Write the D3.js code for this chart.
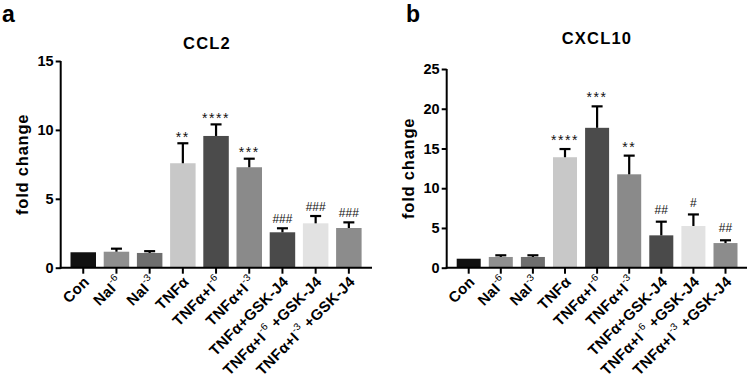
<!DOCTYPE html>
<html>
<head>
<meta charset="utf-8">
<script src="https://cdn.jsdelivr.net/npm/d3@7"></script>
<style>
  html, body { margin: 0; padding: 0; background: #fff; }
  svg { display: block; font-family: "Liberation Sans", Arial, sans-serif; }
</style>
</head>
<body>
<svg id="chart" width="750" height="381"></svg>
<script>
// ---- data ----
const categories = ["Con", "NaI-6", "NaI-3", "TNFα", "TNFα+I-6", "TNFα+I-3",
  "TNFα+GSK-J4", "TNFα+I-6 +GSK-J4", "TNFα+I-3 +GSK-J4"];
const labelMain = ["Con", "NaI", "NaI", "TNFα", "TNFα+I", "TNFα+I", "TNFα+GSK-J4", "TNFα+I", "TNFα+I"];
const labelSup  = ["", "-6", "-3", "", "-6", "-3", "", "-6", "-3"];
const labelTail = ["", "", "", "", "", "", "", " +GSK-J4", " +GSK-J4"];

const ccl2Mean = [1.12, 1.16, 1.07, 7.58, 9.56, 7.29, 2.57, 3.22, 2.88];
const ccl2Err  = [0, 0.22, 0.13, 1.45, 0.84, 0.62, 0.29, 0.53, 0.41];
const ccl2Sig  = ["", "", "", "**", "****", "***", "###", "###", "###"];
const ccl2Ticks = [0, 5, 10, 15];

const cxcl10Mean = [1.13, 1.35, 1.35, 13.9, 17.6, 11.75, 4.07, 5.25, 3.1];
const cxcl10Err  = [0, 0.21, 0.21, 1.03, 2.7, 2.35, 1.72, 1.45, 0.35];
const cxcl10Sig  = ["", "", "", "****", "***", "**", "##", "#", "##"];
const cxcl10Ticks = [0, 5, 10, 15, 20, 25];

const barColors = ["#111111", "#8f8f8f", "#6e6e6e", "#c8c8c8", "#4b4b4b", "#8a8a8a", "#4a4a4a", "#e2e2e2", "#8c8c8c"];

const svg = d3.select("#chart");

function panel(cfg) {
  const g = svg.append("g");
  const y = d3.scaleLinear().domain([0, cfg.ymax]).range([cfg.y0, cfg.y1]);
  const pi = cfg.padInner;
  const x = d3.scaleBand().domain(categories).range([cfg.xr0, cfg.xr1])
    .paddingInner(pi).paddingOuter(pi / 2);

  // panel letter
  g.append("text").attr("x", cfg.letterX).attr("y", 22)
    .attr("font-size", 23).attr("font-weight", "bold").text(cfg.letter);
  // title
  g.append("text").attr("x", cfg.titleX).attr("y", cfg.titleY)
    .attr("text-anchor", "middle").attr("font-size", 16.5).attr("font-weight", "bold")
    .attr("letter-spacing", 1.2).text(cfg.title);
  // y title
  g.append("text")
    .attr("transform", `translate(${cfg.yTitleX},${(cfg.y0 + cfg.y1) / 2}) rotate(-90)`)
    .attr("text-anchor", "middle").attr("font-size", 16.5).attr("font-weight", "bold")
    .attr("letter-spacing", 0.8).text("fold change");

  // bars
  g.selectAll("rect.bar").data(cfg.mean).join("rect").attr("class", "bar")
    .attr("x", (d, i) => x(categories[i]))
    .attr("width", x.bandwidth())
    .attr("y", d => y(d))
    .attr("height", d => y(0) - y(d))
    .attr("fill", (d, i) => barColors[i]);

  // error bars (upper only)
  const capW = 11;
  cfg.mean.forEach((m, i) => {
    const e = cfg.err[i];
    if (e <= 0) return;
    const cx = x(categories[i]) + x.bandwidth() / 2;
    g.append("line").attr("x1", cx).attr("x2", cx).attr("y1", y(m)).attr("y2", y(m + e))
      .attr("stroke", "#000").attr("stroke-width", 2.2);
    g.append("line").attr("x1", cx - capW / 2).attr("x2", cx + capW / 2)
      .attr("y1", y(m + e)).attr("y2", y(m + e))
      .attr("stroke", "#000").attr("stroke-width", 2.2);
  });

  // significance marks
  cfg.sig.forEach((s, i) => {
    if (!s) return;
    const cx = x(categories[i]) + x.bandwidth() / 2;
    const top = y(cfg.mean[i] + cfg.err[i]);
    const isStar = s[0] === "*";
    g.append("text").attr("x", cx).attr("text-anchor", "middle")
      .attr("y", isStar ? top - cfg.sigOff + 8 : top - cfg.sigOff + 4.2)
      .attr("font-size", isStar ? 14 : 12)
      .attr("letter-spacing", isStar ? 1.6 : 0)
      .attr("fill", "#111")
      .text(s);
  });

  // y axis
  const ya = g.append("g").attr("transform", `translate(${cfg.axisX},0)`)
    .call(d3.axisLeft(y).tickValues(cfg.ticks).tickSize(5).tickPadding(2));
  ya.select(".domain").attr("stroke-width", 2).attr("d", `M-0,${cfg.y1}V${cfg.y0 + 1}`);
  ya.selectAll(".tick line").attr("stroke-width", 2);
  ya.selectAll(".tick text").attr("font-size", 14.5).attr("font-weight", "bold")
    .attr("font-family", "Liberation Sans, Arial, sans-serif").attr("fill", "#000");

  // x axis
  const xa = g.append("g").attr("transform", `translate(0,${cfg.y0})`)
    .call(d3.axisBottom(x).tickSize(6).tickSizeOuter(0));
  xa.select(".domain").attr("stroke-width", 2).attr("d", `M${cfg.axisX - 1},0H${cfg.axisEnd}`);
  xa.selectAll(".tick line").attr("stroke-width", 2);
  xa.selectAll(".tick text").each(function (d, i) {
    const t = d3.select(this);
    t.text(null).attr("y", null).attr("dy", null)
      .attr("text-anchor", "end")
      .attr("transform", "translate(7,15) rotate(-45)")
      .attr("font-size", 15).attr("font-weight", "bold")
      .attr("font-family", "Liberation Sans, Arial, sans-serif")
      .attr("letter-spacing", 0.3)
      .attr("fill", "#000");
    t.append("tspan").text(labelMain[i]);
    if (labelSup[i]) {
      t.append("tspan").attr("font-size", 10).attr("font-weight", "normal")
        .attr("dy", -7).text(labelSup[i]);
    }
    if (labelTail[i]) {
      t.append("tspan").attr("dy", 7).text(labelTail[i]);
    } else if (labelSup[i]) {
      t.append("tspan").attr("dy", 7).text("\u200B");
    }
  });
}

panel({
  letter: "a", letterX: 2, title: "CCL2", titleX: 207, titleY: 49, yTitleX: 28,
  ymax: 15, y0: 267.7, y1: 61, ticks: ccl2Ticks,
  xr0: 66.65, xr1: 365.45, padInner: 0.232, axisX: 60.7, axisEnd: 372,
  mean: ccl2Mean, err: ccl2Err, sig: ccl2Sig, sigOff: 9.5
});

panel({
  letter: "b", letterX: 406, title: "CXCL10", titleX: 597, titleY: 44, yTitleX: 414,
  ymax: 25, y0: 267.7, y1: 69, ticks: cxcl10Ticks,
  xr0: 452.65, xr1: 741.55, padInner: 0.252, axisX: 446.7, axisEnd: 747,
  mean: cxcl10Mean, err: cxcl10Err, sig: cxcl10Sig, sigOff: 12
});
</script>
</body>
</html>
